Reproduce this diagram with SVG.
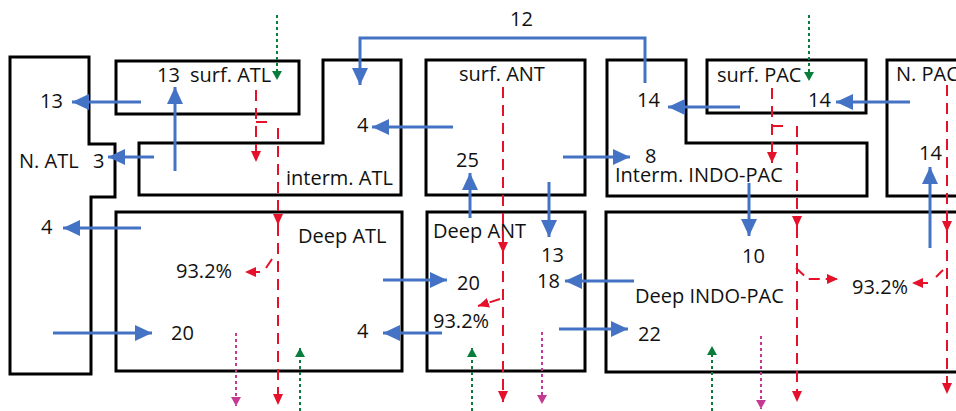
<svg xmlns="http://www.w3.org/2000/svg" width="956" height="411" viewBox="0 0 956 411">
<style>
.box{fill:none;stroke:#000;stroke-width:3}
.b{fill:none;stroke:#4472c4;stroke-width:3;marker-end:url(#ab)}
.r{fill:none;stroke:#e5102a;stroke-width:2;stroke-dasharray:11 7}
.ra{marker-end:url(#ar)}
.g{fill:none;stroke:#0b7d3b;stroke-width:2;stroke-dasharray:3 3;marker-end:url(#ag)}
.m{fill:none;stroke:#c43a92;stroke-width:2;stroke-dasharray:3 3;marker-end:url(#am)}
text{font-family:"Open Sans","Liberation Sans",sans-serif;font-size:20px;fill:#111}
</style>
<defs>
<marker id="ab" markerUnits="userSpaceOnUse" markerWidth="18" markerHeight="16" refX="17" refY="8" orient="auto"><path d="M0,0 L17,8 L0,16 z" fill="#4472c4"/></marker>
<marker id="ar" markerUnits="userSpaceOnUse" markerWidth="12" markerHeight="10" refX="11" refY="5" orient="auto"><path d="M0,0 L11,5 L0,10 z" fill="#e5102a"/></marker>
<marker id="ag" markerUnits="userSpaceOnUse" markerWidth="10" markerHeight="10" refX="9" refY="5" orient="auto"><path d="M0,0 L9,5 L0,10 z" fill="#0b7d3b"/></marker>
<marker id="am" markerUnits="userSpaceOnUse" markerWidth="10" markerHeight="10" refX="9" refY="5" orient="auto"><path d="M0,0 L9,5 L0,10 z" fill="#c43a92"/></marker>
</defs>
<g id="n-atl"><path class="box" d="M10,57 H89 V144 H115 V197 H91 V374 H10 Z"/><text x="19" y="168">N. ATL</text></g>
<g id="surf-atl"><rect class="box" x="116" y="61" width="183" height="53"/><text x="190" y="82">surf. ATL</text></g>
<g id="interm-atl"><path class="box" d="M139,143 H323 V60 H401 V195 H139 Z"/><text x="286" y="185">interm. ATL</text></g>
<g id="surf-ant"><rect class="box" x="426" y="60" width="159" height="135"/><text x="459" y="81">surf. ANT</text></g>
<g id="interm-indo-pac"><path class="box" d="M607,60 H686 V143 H867 V196 H607 Z"/><text x="615" y="182">Interm. INDO-PAC</text></g>
<g id="surf-pac"><rect class="box" x="707" y="60" width="159" height="53"/><text x="717" y="82">surf. PAC</text></g>
<g id="n-pac"><path class="box" d="M960,60 H887 V196 H960"/><text x="896" y="81">N. PAC</text></g>
<g id="deep-atl"><rect class="box" x="116" y="212" width="286" height="159"/><text x="298" y="243">Deep ATL</text></g>
<g id="deep-ant"><rect class="box" x="427" y="212" width="158" height="159"/><text x="433" y="238">Deep ANT</text></g>
<g id="deep-indo-pac"><path class="box" d="M960,212 H606 V372 H960"/><text x="635" y="303">Deep INDO-PAC</text></g>
<g id="connectors">
<path class="b" d="M141,102 H72"/>
<path class="b" d="M154,157 H108"/>
<path class="b" d="M175,171 V87"/>
<path class="b" d="M645,83 V38 H360 V85"/>
<path class="b" d="M453,127 H372"/>
<path class="b" d="M470,218 V173"/>
<path class="b" d="M563,157 H630"/>
<path class="b" d="M549,182 V237"/>
<path class="b" d="M740,107 H668"/>
<path class="b" d="M910,102 H836"/>
<path class="b" d="M930,248 V167"/>
<path class="b" d="M749,183 V236"/>
<path class="b" d="M141,228 H63"/>
<path class="b" d="M53,333 H152"/>
<path class="b" d="M383,280 H447"/>
<path class="b" d="M442,333 H383"/>
<path class="b" d="M634,281 H565"/>
<path class="b" d="M559,329 H628"/>
<path class="r ra" d="M256,90 V162"/>
<path class="r" d="M256,122 H268"/>
<path class="r ra" d="M278,128 V225"/>
<path class="r ra" d="M278,225 V405"/>
<path class="r" d="M272,259 L266,268"/>
<path class="r ra" d="M260,272 H245"/>
<path class="r ra" d="M503,87 V253"/>
<path class="r ra" d="M503,253 V402"/>
<path class="r ra" d="M500,299 L478,306"/>
<path class="r ra" d="M772,88 V163"/>
<path class="r" d="M772,126 H783"/>
<path class="r ra" d="M797,126 V227"/>
<path class="r ra" d="M797,227 V402"/>
<path class="r ra" d="M796,268 L808,279 H838" style="stroke-dasharray:11 6"/>
<path class="r ra" d="M947,85 V232"/>
<path class="r ra" d="M947,232 V394"/>
<path class="r" d="M943,270 L936,277"/>
<path class="r ra" d="M928,283 H912"/>
<path class="g" d="M277,15 V80"/>
<path class="g" d="M809,15 V81"/>
<path class="g" d="M300,411 V348"/>
<path class="g" d="M472,411 V348"/>
<path class="g" d="M712,411 V346"/>
<path class="m" d="M236,333 V406"/>
<path class="m" d="M542,332 V404"/>
<path class="m" d="M761,336 V409"/>
</g>
<g id="labels">
<text x="40" y="108">13</text>
<text x="93" y="168">3</text>
<text x="157" y="82">13</text>
<text x="510" y="26">12</text>
<text x="357" y="132">4</text>
<text x="456" y="167">25</text>
<text x="637" y="107">14</text>
<text x="808" y="107">14</text>
<text x="645" y="163">8</text>
<text x="919" y="160">14</text>
<text x="41" y="234">4</text>
<text x="176" y="278">93.2%</text>
<text x="171" y="340">20</text>
<text x="541" y="262">13</text>
<text x="457" y="290">20</text>
<text x="537" y="288">18</text>
<text x="433" y="328">93.2%</text>
<text x="357" y="338">4</text>
<text x="742" y="263">10</text>
<text x="852" y="294">93.2%</text>
<text x="638" y="341">22</text>
</g>
</svg>
